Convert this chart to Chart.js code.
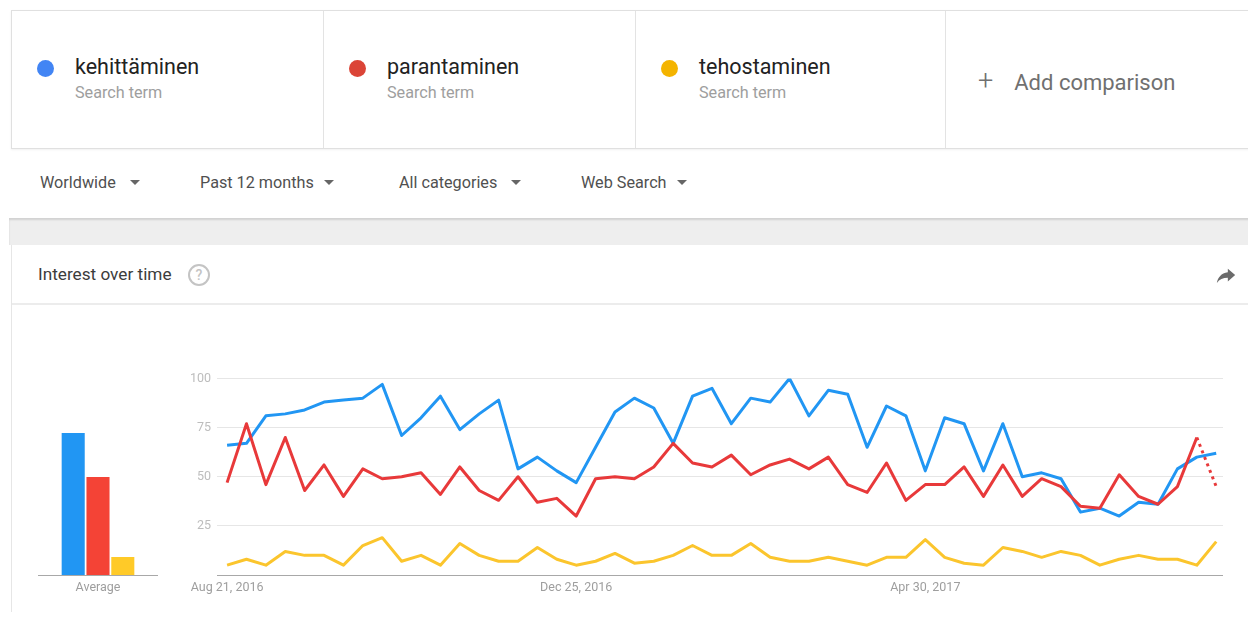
<!DOCTYPE html>
<html>
<head>
<meta charset="utf-8">
<script src="https://cdn.jsdelivr.net/npm/chart.js@4.4.1/dist/chart.umd.min.js"></script>
<style>
	html, body { margin: 0; padding: 0; background: #fff; }
	body { width: 1248px; height: 634px; overflow: hidden; position: relative; font-family: Roboto, "Noto Sans", Arial, sans-serif; }
	.terms { position: absolute; left: 11px; top: 10px; width: 1250px; height: 137px; border: 1px solid #e0e0e0; box-shadow: 0 1px 2px rgba(0,0,0,0.06); }
	.term { position: absolute; top: 0; height: 137px; border-right: 1px solid #e3e3e3; }
	.dot { position: absolute; left: 25px; top: 49px; width: 17px; height: 17px; border-radius: 50%; }
	.term .name { position: absolute; left: 63px; top: 43px; font-size: 21.5px; line-height: 26px; color: #222; white-space: nowrap; }
	.term .sub { position: absolute; left: 63px; top: 72px; font-size: 16.2px; line-height: 20px; color: #9e9e9e; white-space: nowrap; }
	.add { position: absolute; left: 966px; top: 55px; font-size: 22px; line-height: 30px; color: #707070; white-space: nowrap; }
	.add span { font-size: 27px; margin-right: 21px; font-weight: 300; }
	.filter { position: absolute; top: 172px; font-size: 16.2px; line-height: 21px; color: #505050; white-space: nowrap; }
	.filter i { display: inline-block; width: 0; height: 0; border-left: 5px solid transparent; border-right: 5px solid transparent; border-top: 5px solid #666; vertical-align: 3px; }
	.band { position: absolute; left: 9px; top: 218px; width: 1250px; height: 27px; background: #eeeeee; box-shadow: inset 0 2px 2px rgba(0,0,0,0.12); }
	.card { position: absolute; left: 11px; top: 245px; width: 1250px; height: 367px; border-left: 1px solid #e6e6e6; }
	.card .head { position: absolute; left: 0; top: 0; width: 100%; height: 58px; border-bottom: 2px solid #ececec; }
	.card .title { position: absolute; left: 26px; top: 18px; font-size: 17.2px; line-height: 23px; color: #3c3c3c; }
	.help { position: absolute; left: 176px; top: 19px; width: 18px; height: 18px; border: 2px solid #c4c4c4; border-radius: 50%; color: #c4c4c4; font-size: 14px; line-height: 18px; text-align: center; font-weight: 500; }
	.share { position: absolute; left: 1203px; top: 20px; }
	canvas { position: absolute; }
</style>
</head>
<body>

<div class="terms">
	<div class="term" style="left:0;width:311px;">
		<div class="dot" style="background:#4285f4"></div>
		<div class="name">kehittäminen</div>
		<div class="sub">Search term</div>
	</div>
	<div class="term" style="left:312px;width:311px;">
		<div class="dot" style="background:#db4437"></div>
		<div class="name">parantaminen</div>
		<div class="sub">Search term</div>
	</div>
	<div class="term" style="left:624px;width:309px;">
		<div class="dot" style="background:#f4b400"></div>
		<div class="name">tehostaminen</div>
		<div class="sub">Search term</div>
	</div>
	<div class="add"><span>+</span>Add comparison</div>
</div>

<div class="filter" style="left:40px;">Worldwide<i style="margin-left:14px"></i></div>
<div class="filter" style="left:200px;">Past 12 months<i style="margin-left:10px"></i></div>
<div class="filter" style="left:399px;">All categories<i style="margin-left:14px"></i></div>
<div class="filter" style="left:581px;">Web Search<i style="margin-left:10px"></i></div>

<div class="band"></div>

<div class="card">
	<div class="head">
		<div class="title">Interest over time</div>
		<div class="help">?</div>
		<svg class="share" width="22" height="22" viewBox="0 0 24 24"><path fill="#6b6b6b" d="M14 8V4l8 7-8 7v-4.1c-5.5 0-9 1.7-12 5.6 1.2-5.6 4.6-10.6 12-11.5z"/></svg>
	</div>
</div>

<canvas id="avgChart" width="120" height="235" style="left:38px;top:365px;"></canvas>
<canvas id="lineChart" width="1053" height="235" style="left:170px;top:365px;"></canvas>

<script>
// weekly interest, Aug 21 2016 .. Aug 13 2017
var kehittaminen = [66, 67, 81, 82, 84, 88, 89, 90, 97, 71, 80, 91, 74, 82, 89, 54, 60, 53, 47, 65,
	83, 90, 85, 67, 91, 95, 77, 90, 88, 100, 81, 94, 92, 65, 86, 81, 53, 80, 77, 53,
	77, 50, 52, 49, 32, 34, 30, 37, 36, 54, 60, 62];
var parantaminen = [47, 77, 46, 70, 43, 56, 40, 54, 49, 50, 52, 41, 55, 43, 38, 50, 37, 39, 30, 49,
	50, 49, 55, 67, 57, 55, 61, 51, 56, 59, 54, 60, 46, 42, 57, 38, 46, 46, 55, 40,
	56, 40, 49, 45, 35, 34, 51, 40, 36, 45, 70, 45];
var tehostaminen = [5, 8, 5, 12, 10, 10, 5, 15, 19, 7, 10, 5, 16, 10, 7, 7, 14, 8, 5, 7,
	11, 6, 7, 10, 15, 10, 10, 16, 9, 7, 7, 9, 7, 5, 9, 9, 18, 9, 6, 5,
	14, 12, 9, 12, 10, 5, 8, 10, 8, 8, 5, 17];

var averages = [71, 49, 9];
var terms = ['kehittäminen', 'parantaminen', 'tehostaminen'];

var tickIndex = [0, 18, 36];
var yTicks = [25, 50, 75, 100];

var lineColors = ['#2196f3', '#e8393a', '#fbc52d'];
var barColors = ['#2196f3', '#f44336', '#ffca28'];

// week labels
var weeks = [];
for (var w = 0; w < kehittaminen.length; w++) {
	var d = new Date(Date.UTC(2016, 7, 21 + w * 7));
	weeks.push(d.toLocaleDateString('en-US', { month: 'short', day: 'numeric', year: 'numeric', timeZone: 'UTC' }));
}
var lastIdx = kehittaminen.length - 1;

function toPoints(arr) {
	return arr.map(function (v, i) { return { x: i, y: v }; });
}

Chart.defaults.font.family = 'Roboto, "Noto Sans", Arial, sans-serif';
Chart.defaults.animation = false;

var series = [kehittaminen, parantaminen, tehostaminen];
var lineSets = series.map(function (arr, k) {
	var ds = {
		label: terms[k],
		data: toPoints(arr),
		borderColor: lineColors[k],
		backgroundColor: lineColors[k],
		borderWidth: 3,
		pointRadius: 0,
		tension: 0,
		borderJoinStyle: 'round',
		fill: false
	};
	// last week is still incomplete
	if (k === 1) {
		ds.segment = {
			borderDash: function (ctx) { return ctx.p1DataIndex === lastIdx ? [3, 4] : undefined; }
		};
	}
	return ds;
});
// draw yellow first, blue on top of red
lineSets = [lineSets[2], lineSets[1], lineSets[0]];

var lineChart = new Chart(document.getElementById('lineChart'), {
	type: 'line',
	data: { datasets: lineSets },
	options: {
		responsive: false,
		maintainAspectRatio: false,
		layout: { padding: { top: 10, right: 0, left: 0, bottom: 0 } },
		plugins: { legend: { display: false }, tooltip: { enabled: false } },
		scales: {
			x: {
				type: 'linear',
				min: -0.52,
				max: 51.35,
				grid: { display: false, drawTicks: false },
				border: { display: false },
				afterBuildTicks: function (scale) {
					scale.ticks = tickIndex.map(function (v) { return { value: v }; });
				},
				afterFit: function (scale) { scale.height = 25; },
				ticks: {
					autoSkip: false,
					maxRotation: 0,
					padding: 5,
					color: '#9e9e9e',
					font: { size: 12.5 },
					callback: function (v) { return weeks[v]; }
				}
			},
			y: {
				min: 0,
				max: 100,
				afterBuildTicks: function (scale) {
					scale.ticks = [{ value: 0 }].concat(yTicks.map(function (v) { return { value: v }; }));
				},
				afterFit: function (scale) { scale.width = 47; },
				grid: {
					drawTicks: false,
					color: function (ctx) { return ctx.tick && ctx.tick.value === 0 ? '#a8a8a8' : '#e6e6e6'; },
					lineWidth: 1
				},
				border: { display: false },
				ticks: {
					padding: 6,
					color: '#bdbdbd',
					font: { size: 12.5 },
					callback: function (v) { return v === 0 ? '' : v; }
				}
			}
		}
	}
});

var avgChart = new Chart(document.getElementById('avgChart'), {
	type: 'bar',
	data: {
		labels: ['Average'],
		datasets: averages.map(function (v, k) {
			return {
				label: terms[k],
				data: [v],
				backgroundColor: barColors[k],
				borderWidth: 0,
				barPercentage: 0.93,
				categoryPercentage: 0.62
			};
		})
	},
	options: {
		responsive: false,
		maintainAspectRatio: false,
		layout: { padding: { top: 10, right: 0, left: 0, bottom: 0 } },
		plugins: { legend: { display: false }, tooltip: { enabled: false } },
		scales: {
			x: {
				grid: { display: false, drawTicks: false },
				border: { display: true, color: '#a8a8a8', width: 1 },
				afterFit: function (scale) { scale.height = 25; },
				ticks: { padding: 5, color: '#9e9e9e', font: { size: 12.5 } }
			},
			y: { display: false, min: 0, max: 100 }
		}
	}
});
</script>
</body>
</html>
